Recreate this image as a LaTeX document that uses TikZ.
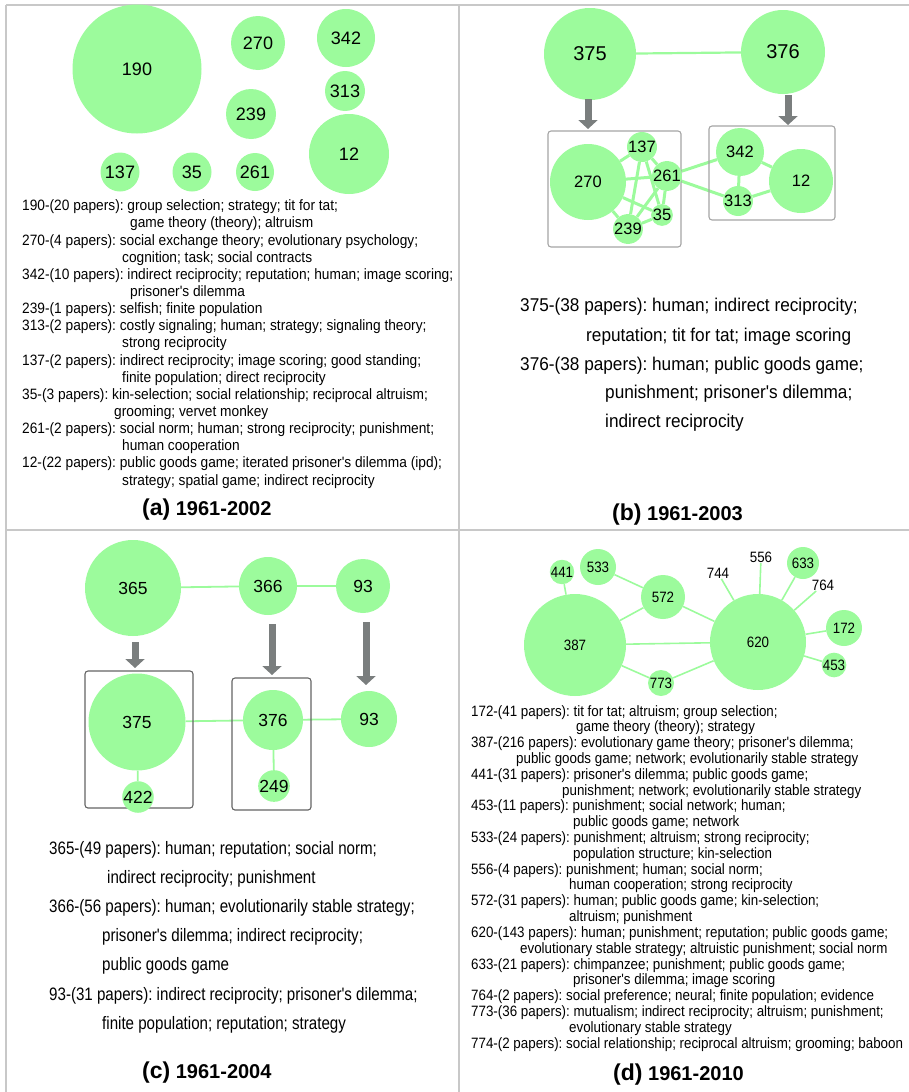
\documentclass[tikz,border=0pt]{standalone}
\usepackage{fontspec}
\setmainfont{Liberation Sans}
\newfontfamily\fa[FakeStretch=0.915]{Liberation Sans}
\newfontfamily\fb[FakeStretch=0.93]{Liberation Sans}
\newfontfamily\fc[FakeStretch=0.84]{Liberation Sans}
\newfontfamily\fd[FakeStretch=0.89]{Liberation Sans}
\usetikzlibrary{arrows.meta,backgrounds}
\definecolor{ngreen}{RGB}{156,251,156}
\definecolor{agray}{RGB}{122,126,126}
\definecolor{fgray}{RGB}{200,200,200}
\definecolor{bgrayb}{RGB}{165,165,165}
\definecolor{bgrayc}{RGB}{100,100,100}
\frenchspacing
\begin{document}
\frenchspacing
\begin{tikzpicture}[x=1pt,y=-1pt,
  frame/.style={draw=fgray,line width=1.4pt},
  bub/.style={circle,fill=ngreen,draw=none,inner sep=0pt,minimum size=#1},
  plain/.style={rectangle,inner sep=0.5pt},
  gedge/.style={draw=ngreen,line width=#1},
  garrow/.style={draw=agray,line width=7pt,-{Triangle[width=19pt,length=9pt]}},
  gbox/.style={draw=#1,line width=1.1pt,rounded corners=3pt,inner sep=0pt},
  tl/.style={anchor=base west,inner sep=0pt},
  txa/.style={tl,font=\frenchspacing\fa\fontsize{15}{17}\selectfont},
  txb/.style={tl,font=\frenchspacing\fb\fontsize{18.5}{20}\selectfont},
  txc/.style={tl,font=\frenchspacing\fc\fontsize{18}{20}\selectfont},
  txd/.style={tl,font=\frenchspacing\fd\fontsize{15}{16}\selectfont},
  ttl/.style={tl,font=\bfseries\fontsize{20}{20}\selectfont},
  la/.style={font=\fontsize{18}{18}\selectfont},
  lbt/.style={font=\fontsize{20}{20}\selectfont},
  lbb/.style={font=\fontsize{16.5}{16.5}\selectfont},
  lc/.style={font=\fontsize{17.5}{17.5}\selectfont},
  ld/.style={font=\fd\fontsize{15}{15}\selectfont}]
\useasboundingbox (0,0) rectangle (909,1092);
% frame
\coordinate (fTL) at (6,5);
\coordinate (fTR) at (909,5);
\coordinate (fBL) at (6,1092);
\coordinate (fMT) at (459,5);
\coordinate (fMB) at (459,1092);
\coordinate (fML) at (6,530);
\coordinate (fMR) at (909,530);
\draw[frame] (fTL) -- (fTR);
\draw[frame] (fTL) -- (fBL);
\draw[frame] (fMT) -- (fMB);
\draw[frame] (fML) -- (fMR);

% ---------------- panel (a)
\node[bub=129pt,la] (a190) at (137,69) {190};
\node[bub=54pt,la] (a270) at (258,43) {270};
\node[bub=58pt,la] (a342) at (346,38) {342};
\node[bub=40pt,la] (a313) at (345,91) {313};
\node[bub=50pt,la] (a239) at (251,114) {239};
\node[bub=80pt,la] (a12) at (349,154) {12};
\node[bub=39pt,la] (a137) at (120,172) {137};
\node[bub=39pt,la] (a35) at (192,172) {35};
\node[bub=38pt,la] (a261) at (255,172) {261};

\node[txa] (ta0) at (22,210.7) {190-(20 papers): group selection; strategy; tit for tat;};
\node[txa] (ta1) at (130,227.8) {game theory (theory); altruism};
\node[txa] (ta2) at (22,245.0) {270-(4 papers): social exchange theory; evolutionary psychology;};
\node[txa] (ta3) at (122,262.1) {cognition; task; social contracts};
\node[txa] (ta4) at (22,279.3) {342-(10 papers): indirect reciprocity; reputation; human; image scoring;};
\node[txa] (ta5) at (130,296.4) {prisoner's dilemma};
\node[txa] (ta6) at (22,313.5) {239-(1 papers): selfish; finite population};
\node[txa] (ta7) at (22,330.7) {313-(2 papers): costly signaling; human; strategy; signaling theory;};
\node[txa] (ta8) at (122,347.8) {strong reciprocity};
\node[txa] (ta9) at (22,365.0) {137-(2 papers): indirect reciprocity; image scoring; good standing;};
\node[txa] (ta10) at (122,382.1) {finite population; direct reciprocity};
\node[txa] (ta11) at (22,399.2) {35-(3 papers): kin-selection; social relationship; reciprocal altruism;};
\node[txa] (ta12) at (114,416.4) {grooming; vervet monkey};
\node[txa] (ta13) at (22,433.5) {261-(2 papers): social norm; human; strong reciprocity; punishment;};
\node[txa] (ta14) at (122,450.7) {human cooperation};
\node[txa] (ta15) at (22,467.8) {12-(22 papers): public goods game; iterated prisoner's dilemma (ipd);};
\node[txa] (ta16) at (122,485.0) {strategy; spatial game; indirect reciprocity};
\node[ttl] (tta) at (142,515) {{\fontsize{23}{23}\selectfont(a)} 1961-2002};

% ---------------- panel (b)
\node[bub=92pt,lbt] (b375) at (590,54) {375};
\node[bub=84pt,lbt] (b376) at (783,52) {376};
\node[gbox=bgrayb,minimum width=133pt,minimum height=116pt] (bboxL) at (614.5,189) {};
\node[gbox=bgrayb,minimum width=126pt,minimum height=94pt] (bboxR) at (772,173) {};
\node[bub=76pt,lbb] (b270) at (588,182) {270};
\node[bub=30pt,lbb] (b137) at (642,147) {137};
\node[bub=18pt,lbb] (b261) at (667,176) {261};
\node[bub=12pt,lbb] (b35) at (662,215) {35};
\node[bub=26pt,lbb] (b239) at (628,229) {239};
\node[bub=48pt,lbb] (b342) at (740,152) {342};
\node[bub=64pt,lbb] (b12) at (801,181) {12};
\node[bub=30pt,lbb] (b313) at (738,201) {313};
\coordinate (bA1s) at (588,99);
\coordinate (bA1e) at (588,129);
\coordinate (bA2s) at (788,95);
\coordinate (bA2e) at (788,125);
\draw[garrow] (bA1s) -- (bA1e);
\draw[garrow] (bA2s) -- (bA2e);
\begin{pgfonlayer}{background}
\draw[gedge=2.2pt] (b375) -- (b376);
\draw[gedge=3pt] (b270) -- (b137);
\draw[gedge=3pt] (b270) -- (b261);
\draw[gedge=3pt] (b270) -- (b35);
\draw[gedge=3pt] (b270) -- (b239);
\draw[gedge=3pt] (b137) -- (b239);
\draw[gedge=3pt] (b137) -- (b35);
\draw[gedge=3pt] (b137) -- (b261);
\draw[gedge=3pt] (b261) -- (b35);
\draw[gedge=3pt] (b261) -- (b239);
\draw[gedge=3pt] (b239) -- (b35);
\draw[gedge=3pt] (b261) -- (b342);
\draw[gedge=3pt] (b261) -- (b313);
\draw[gedge=3pt] (b342) -- (b313);
\draw[gedge=3pt] (b342) -- (b12);
\draw[gedge=3pt] (b313) -- (b12);
\end{pgfonlayer}

\node[txb] (tb0) at (520,311.7) {375-(38 papers): human; indirect reciprocity;};
\node[txb] (tb1) at (586,341.2) {reputation; tit for tat; image scoring};
\node[txb] (tb2) at (520,370) {376-(38 papers): human; public goods game;};
\node[txb] (tb3) at (605,398.7) {punishment; prisoner's dilemma;};
\node[txb] (tb4) at (605,427.3) {indirect reciprocity};
\node[ttl] (ttb) at (612,520) {{\fontsize{23}{23}\selectfont(b)} 1961-2003};

% ---------------- panel (c)
\node[bub=96pt,lc] (c365) at (133,588) {365};
\node[bub=58pt,lc] (c366) at (268,586) {366};
\node[bub=54pt,lc] (c93a) at (363,586) {93};
\node[gbox=bgrayc,minimum width=108pt,minimum height=137pt] (cboxL) at (139,739.5) {};
\node[gbox=bgrayc,minimum width=79pt,minimum height=132pt] (cboxM) at (271.5,744) {};
\node[bub=97pt,lc] (c375) at (137,722) {375};
\node[bub=15pt,lc] (c422) at (138,797) {422};
\node[bub=60pt,lc] (c376) at (273,720) {376};
\node[bub=30pt,lc] (c249) at (274,786) {249};
\node[bub=56pt,lc] (c93b) at (369,719) {93};
\coordinate (cA1s) at (135,642);
\coordinate (cA1e) at (135,668);
\coordinate (cA2s) at (272,624);
\coordinate (cA2e) at (272,675);
\coordinate (cA3s) at (366,622);
\coordinate (cA3e) at (366,685);
\draw[garrow] (cA1s) -- (cA1e);
\draw[garrow] (cA2s) -- (cA2e);
\draw[garrow] (cA3s) -- (cA3e);
\begin{pgfonlayer}{background}
\draw[gedge=1.8pt] (c365) -- (c366);
\draw[gedge=1.8pt] (c366) -- (c93a);
\draw[gedge=1.8pt] (c375) -- (c376);
\draw[gedge=1.8pt] (c376) -- (c93b);
\draw[gedge=1.8pt] (c375) -- (c422);
\draw[gedge=1.8pt] (c376) -- (c249);
\end{pgfonlayer}

\node[txc] (tc0) at (49,854) {365-(49 papers): human; reputation; social norm;};
\node[txc] (tc1) at (107,883.3) {indirect reciprocity; punishment};
\node[txc] (tc2) at (49,912.6) {366-(56 papers): human; evolutionarily stable strategy;};
\node[txc] (tc3) at (102,941.8) {prisoner's dilemma; indirect reciprocity;};
\node[txc] (tc4) at (102,970.6) {public goods game};
\node[txc] (tc5) at (49,1000) {93-(31 papers): indirect reciprocity; prisoner's dilemma;};
\node[txc] (tc6) at (102,1029) {finite population; reputation; strategy};
\node[ttl] (ttc) at (142,1078) {{\fontsize{23}{23}\selectfont(c)} 1961-2004};

% ---------------- panel (d)
\node[bub=102pt,ld] (d387) at (575,645) {387};
\node[bub=96pt,ld] (d620) at (758,642) {620};
\node[bub=44pt,ld] (d572) at (663,597) {572};
\node[bub=36pt,ld] (d533) at (598,567) {533};
\node[bub=14pt,ld] (d441) at (562,572) {441};
\node[bub=26pt,ld] (d773) at (661,683) {773};
\node[bub=32pt,ld] (d633) at (803,563) {633};
\node[bub=36pt,ld] (d172) at (844,628) {172};
\node[bub=12pt,ld] (d453) at (834,665) {453};
\node[plain,ld] (d744) at (718,573) {744};
\node[plain,ld] (d556) at (761,557) {556};
\node[plain,ld] (d764) at (823,585) {764};
\begin{pgfonlayer}{background}
\draw[gedge=1.6pt] (d387) -- (d441);
\draw[gedge=1.6pt] (d387) -- (d572);
\draw[gedge=1.6pt] (d533) -- (d572);
\draw[gedge=1.6pt] (d572) -- (d620);
\draw[gedge=1.6pt] (d387) -- (d620);
\draw[gedge=1.6pt] (d387) -- (d773);
\draw[gedge=1.6pt] (d773) -- (d620);
\draw[gedge=1.6pt] (d620) -- (d744);
\draw[gedge=1.6pt] (d620) -- (d556);
\draw[gedge=1.6pt] (d620) -- (d633);
\draw[gedge=1.6pt] (d620) -- (d764);
\draw[gedge=1.6pt] (d620) -- (d172);
\draw[gedge=1.6pt] (d620) -- (d453);
\end{pgfonlayer}

\node[txd] (td0) at (471,716.0) {172-(41 papers): tit for tat; altruism; group selection;};
\node[txd] (td1) at (576,731.8) {game theory (theory); strategy};
\node[txd] (td2) at (471,747.6) {387-(216 papers): evolutionary game theory; prisoner's dilemma;};
\node[txd] (td3) at (516,763.4) {public goods game; network; evolutionarily stable strategy};
\node[txd] (td4) at (471,779.2) {441-(31 papers): prisoner's dilemma; public goods game;};
\node[txd] (td5) at (562,795.1) {punishment; network; evolutionarily stable strategy};
\node[txd] (td6) at (471,810.9) {453-(11 papers): punishment; social network; human;};
\node[txd] (td7) at (573,826.7) {public goods game; network};
\node[txd] (td8) at (471,842.5) {533-(24 papers): punishment; altruism; strong reciprocity;};
\node[txd] (td9) at (573,858.3) {population structure; kin-selection};
\node[txd] (td10) at (471,874.1) {556-(4 papers): punishment; human; social norm;};
\node[txd] (td11) at (569,889.9) {human cooperation; strong reciprocity};
\node[txd] (td12) at (471,905.7) {572-(31 papers): human; public goods game; kin-selection;};
\node[txd] (td13) at (569,921.5) {altruism; punishment};
\node[txd] (td14) at (471,937.3) {620-(143 papers): human; punishment; reputation; public goods game;};
\node[txd] (td15) at (520,953.2) {evolutionary stable strategy; altruistic punishment; social norm};
\node[txd] (td16) at (471,969.0) {633-(21 papers): chimpanzee; punishment; public goods game;};
\node[txd] (td17) at (573,984.8) {prisoner's dilemma; image scoring};
\node[txd] (td18) at (471,1000.6) {764-(2 papers): social preference; neural; finite population; evidence};
\node[txd] (td19) at (471,1016.4) {773-(36 papers): mutualism; indirect reciprocity; altruism; punishment;};
\node[txd] (td20) at (569,1032.2) {evolutionary stable strategy};
\node[txd] (td21) at (471,1048.0) {774-(2 papers): social relationship; reciprocal altruism; grooming; baboon};
\node[ttl] (ttd) at (613,1080) {{\fontsize{23}{23}\selectfont(d)} 1961-2010};
\end{tikzpicture}
\end{document}
